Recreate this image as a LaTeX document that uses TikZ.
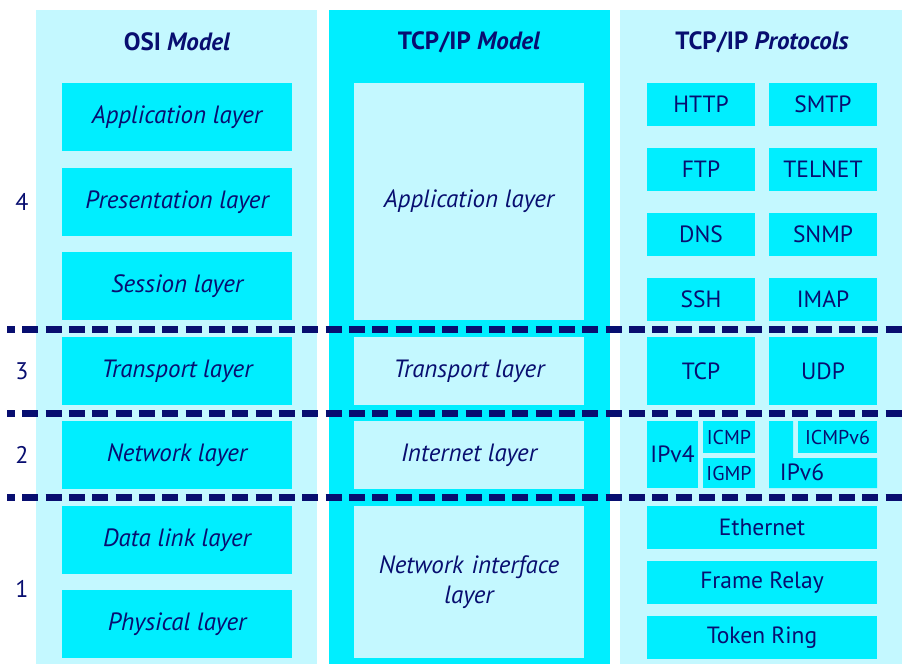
\documentclass[tikz,border=0pt]{standalone}
\usepackage{fontspec}
\setmainfont{PT Sans}
\begin{document}
\definecolor{cyanbox}{RGB}{0,238,255}
\definecolor{lightc}{RGB}{196,248,255}
\definecolor{navy}{RGB}{8,14,112}
\begin{tikzpicture}[x=1pt,y=-1pt,
  every node/.style={inner sep=0pt,outer sep=0pt,text=navy,font=\fontsize{23.5}{28}\selectfont},
  colbox/.style={fill=lightc,draw=none,anchor=north west},
  colbright/.style={fill=cyanbox,draw=none,anchor=north west},
  lay/.style={fill=cyanbox,minimum width=230pt,minimum height=68pt,font=\fontsize{25}{30}\selectfont\itshape},
  laylight/.style={fill=lightc,minimum width=230pt,font=\fontsize{25}{30}\selectfont\itshape,align=center},
  proto/.style={fill=cyanbox,minimum width=108pt,minimum height=43pt},
  small/.style={font=\fontsize{20}{24}\selectfont},
  title/.style={font=\fontsize{25}{30}\selectfont\bfseries},
  num/.style={font=\fontsize{24}{28}\selectfont},
  sep/.style={draw=navy,line width=7pt,dash pattern=on 16pt off 7.33pt,dash phase=8.3pt}
]
\useasboundingbox (0,0) rectangle (902,664);
\fill[white] (0,0) rectangle (902,664);
% columns
\node[colbox,minimum width=281pt,minimum height=654pt] (osicol) at (36,10) {};
\node[colbright,minimum width=281pt,minimum height=654pt] (tcpcol) at (329,10) {};
\node[colbox,minimum width=282pt,minimum height=654pt] (protocol) at (620,10) {};
% titles
\node[title] (t1) at (177,42) {OSI \textit{Model}};
\node[title] (t2) at (469,42) {TCP/IP \textit{Model}};
\node[title] (t3) at (762,42) {TCP/IP \textit{Protocols}};
% OSI layers
\node[lay] (app) at (177,117) {Application layer};
\node[lay] (pres) at (177,202) {Presentation layer};
\node[lay] (sess) at (177,286) {Session layer};
\node[lay] (trans) at (177,371) {Transport layer};
\node[lay] (net) at (177,455) {Network layer};
\node[lay] (dl) at (177,540) {Data link layer};
\node[lay] (phys) at (177,624) {Physical layer};
% TCP/IP model layers
\node[laylight,minimum height=237pt] (tapp) at (469,201.5) {Application layer};
\node[laylight,minimum height=68pt] (ttrans) at (469,371) {Transport layer};
\node[laylight,minimum height=68pt] (tint) at (469,455) {Internet layer};
\node[laylight,minimum height=152pt,text width=230pt] (tni) at (469,582) {Network interface\\layer};
% protocols
\node[proto] (http) at (701,104.5) {HTTP};
\node[proto] (smtp) at (823,104.5) {SMTP};
\node[proto] (ftp) at (701,169.5) {FTP};
\node[proto] (telnet) at (823,169.5) {TELNET};
\node[proto] (dns) at (701,234.5) {DNS};
\node[proto] (snmp) at (823,234.5) {SNMP};
\node[proto] (ssh) at (701,299.5) {SSH};
\node[proto] (imap) at (823,299.5) {IMAP};
\node[proto,minimum height=68pt] (tcp) at (701,371) {TCP};
\node[proto,minimum height=68pt] (udp) at (823,371) {UDP};
\node[fill=cyanbox,minimum width=51pt,minimum height=67pt] (ipv4) at (672.5,454.5) {IPv4};
\node[fill=cyanbox,minimum width=52pt,minimum height=32pt,small] (icmp) at (729,437) {ICMP};
\node[fill=cyanbox,minimum width=52pt,minimum height=30pt,small] (igmp) at (729,473) {IGMP};
\node[fill=cyanbox,minimum width=79pt,minimum height=32pt,small] (icmpv6) at (837.5,437) {ICMPv6};
\fill[cyanbox] (769,421) -- (793,421) -- (793,458) -- (877,458) -- (877,488) -- (769,488) -- cycle;
\node (ipv6) at (802,472) {IPv6};
\node[proto,minimum width=230pt] (eth) at (762,527.5) {Ethernet};
\node[proto,minimum width=230pt] (fr) at (762,582.5) {Frame Relay};
\node[proto,minimum width=230pt] (tr) at (762,637.5) {Token Ring};
% numbers
\node[num] (n4) at (22,202) {4};
\node[num] (n3) at (22,371) {3};
\node[num] (n2) at (22,455) {2};
\node[num] (n1) at (22,589) {1};
% separators
\coordinate (s1a) at (7.3,329); \coordinate (s1b) at (902,329);
\coordinate (s2a) at (7.3,413); \coordinate (s2b) at (902,413);
\coordinate (s3a) at (7.3,497.5); \coordinate (s3b) at (902,497.5);
\draw[sep] (s1a) -- (s1b);
\draw[sep] (s2a) -- (s2b);
\draw[sep] (s3a) -- (s3b);
\end{tikzpicture}
\end{document}
